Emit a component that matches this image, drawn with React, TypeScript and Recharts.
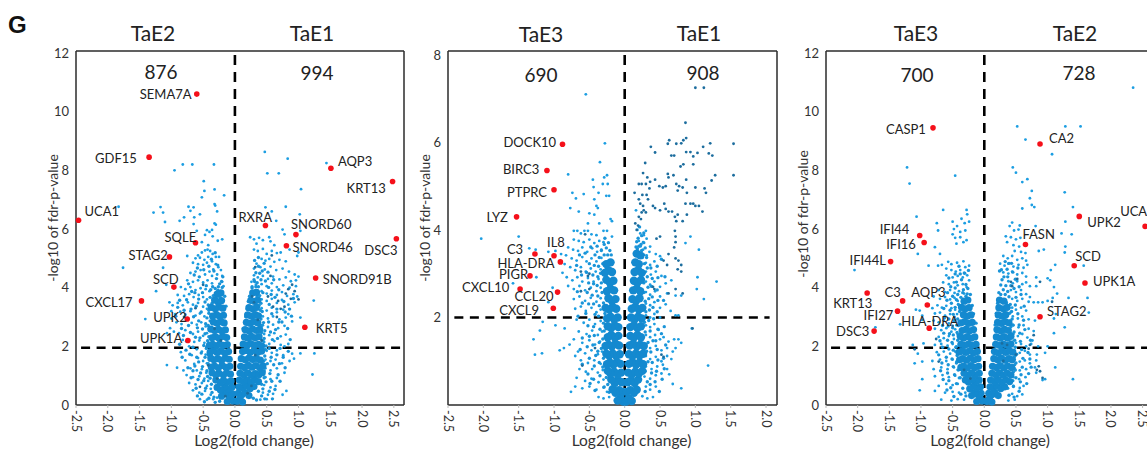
import { FC } from "react";
import { ScatterChart, Scatter, XAxis, YAxis, ReferenceLine } from "recharts";

type Pair = [number, number];
type Gene = { x: number; y: number; gene: string };

const xTicksWide = [-2.5, -2, -1.5, -1, -0.5, 0, 0.5, 1, 1.5, 2, 2.5];
const xTicksNarrow = [-2.5, -2, -1.5, -1, -0.5, 0, 0.5, 1, 1.5, 2];
const yTicks12 = [0, 2, 4, 6, 8, 10, 12];
const yTicks8 = [2, 4, 6, 8];

// TaE2 vs TaE1
const genesA: Gene[] = [
  { x: -0.6, y: 10.6, gene: "SEMA7A" },
  { x: -1.35, y: 8.45, gene: "GDF15" },
  { x: -2.46, y: 6.3, gene: "UCA1" },
  { x: -0.62, y: 5.53, gene: "SQLE" },
  { x: -1.03, y: 5.05, gene: "STAG2" },
  { x: -0.96, y: 4.02, gene: "SCD" },
  { x: -1.47, y: 3.55, gene: "CXCL17" },
  { x: -0.75, y: 2.93, gene: "UPK2" },
  { x: -0.74, y: 2.2, gene: "UPK1A" },
  { x: 1.51, y: 8.07, gene: "AQP3" },
  { x: 2.48, y: 7.62, gene: "KRT13" },
  { x: 0.48, y: 6.12, gene: "RXRA" },
  { x: 0.96, y: 5.81, gene: "SNORD60" },
  { x: 0.81, y: 5.43, gene: "SNORD46" },
  { x: 2.54, y: 5.67, gene: "DSC3" },
  { x: 1.27, y: 4.33, gene: "SNORD91B" },
  { x: 1.1, y: 2.65, gene: "KRT5" },
];
const labelNudgeA: Record<string, Pair> = {
  SEMA7A: [-57, 0], GDF15: [-54, 1], UCA1: [6, -9], SQLE: [-31, -6], STAG2: [-41, -2],
  SCD: [-21, -8], CXCL17: [-56, 1], UPK2: [-34, -2], UPK1A: [-48, -2], AQP3: [7, -7],
  KRT13: [-46, 6], RXRA: [-27, -9], SNORD60: [-5, -11], SNORD46: [6, 1], DSC3: [-32, 11],
  SNORD91B: [7, 1], KRT5: [11, 1],
};
const coreA: Pair[] = [
  [-0.03,0.14],[-0.08,0.2],[-0.12,0.12],[-0.04,0.38],[-0.1,0.33],[-0.15,0.41],[-0.21,0.3],[-0.05,0.6],[-0.11,0.55],[-0.16,0.62],[-0.23,0.52],[-0.28,0.6],
  [-0.06,0.82],[-0.12,0.78],[-0.18,0.84],[-0.23,0.77],[-0.3,0.85],[-0.07,1.05],[-0.13,1.1],[-0.18,1.02],[-0.25,1.08],[-0.3,1.03],[-0.36,1.1],
  [-0.08,1.32],[-0.14,1.28],[-0.2,1.35],[-0.26,1.27],[-0.32,1.33],[-0.37,1.29],[-0.09,1.56],[-0.15,1.6],[-0.21,1.53],[-0.27,1.58],[-0.33,1.54],[-0.38,1.6],
  [-0.1,1.82],[-0.16,1.78],[-0.22,1.84],[-0.28,1.79],[-0.34,1.85],[-0.39,1.8],[-0.12,2.06],[-0.18,2.03],[-0.24,2.08],[-0.29,2.02],[-0.35,2.07],[-0.4,2.04],
  [-0.13,2.3],[-0.19,2.34],[-0.25,2.28],[-0.31,2.33],[-0.36,2.29],[-0.15,2.56],[-0.21,2.53],[-0.26,2.58],[-0.32,2.54],[-0.38,2.59],[-0.17,2.8],[-0.22,2.84],[-0.28,2.79],[-0.34,2.83],
  [-0.18,3.06],[-0.24,3.02],[-0.29,3.08],[-0.35,3.03],[-0.19,3.3],[-0.25,3.34],[-0.31,3.28],[-0.37,3.33],[-0.21,3.56],[-0.27,3.52],[-0.32,3.58],[-0.22,3.82],[-0.28,3.78],
  [0.03,0.13],[0.08,0.22],[0.12,0.1],[0.05,0.4],[0.11,0.35],[0.16,0.42],[0.22,0.32],[0.06,0.62],[0.12,0.58],[0.18,0.65],[0.24,0.56],[0.3,0.63],
  [0.07,0.85],[0.13,0.8],[0.19,0.86],[0.25,0.79],[0.31,0.87],[0.37,0.8],[0.08,1.08],[0.14,1.03],[0.2,1.1],[0.26,1.02],[0.32,1.07],[0.38,1.04],[0.43,1.1],
  [0.09,1.32],[0.15,1.28],[0.21,1.35],[0.27,1.29],[0.33,1.34],[0.39,1.27],[0.44,1.33],[0.1,1.58],[0.16,1.54],[0.22,1.6],[0.28,1.55],[0.34,1.59],[0.4,1.53],
  [0.12,1.82],[0.18,1.86],[0.24,1.79],[0.3,1.85],[0.36,1.8],[0.42,1.84],[0.13,2.08],[0.19,2.03],[0.25,2.09],[0.31,2.04],[0.37,2.07],[0.42,2.02],
  [0.15,2.32],[0.2,2.28],[0.26,2.34],[0.32,2.29],[0.38,2.33],[0.16,2.57],[0.22,2.53],[0.28,2.59],[0.34,2.54],[0.39,2.58],[0.18,2.82],[0.24,2.78],[0.3,2.84],[0.36,2.8],
  [0.2,3.07],[0.26,3.03],[0.32,3.08],[0.37,3.04],[0.22,3.32],[0.28,3.28],[0.34,3.33],[0.25,3.57],[0.31,3.53],[0.36,3.58],[0.28,3.82],[0.34,3.84],
];
const haloA: Pair[] = [
  [-0.41,0.23],[-0.37,0.71],[-0.44,1.17],[-0.47,1.63],[-0.43,2.19],[-0.46,2.77],[-0.41,3.13],[-0.39,3.67],[-0.35,4.03],[-0.29,4.31],[-0.33,4.57],[-0.24,4.13],[-0.19,4.37],[-0.27,4.77],
  [-0.36,0.43],[-0.33,0.27],[-0.39,0.91],[-0.42,1.41],[-0.45,1.93],[-0.47,2.43],[-0.44,2.97],[-0.42,3.41],[-0.38,3.93],[-0.31,3.97],[-0.26,4.03],[-0.21,4.21],[-0.16,3.71],[-0.14,3.37],
  [-0.52,0.37],[-0.49,0.83],[-0.54,1.09],[-0.51,1.31],[-0.57,1.47],[-0.53,1.77],[-0.49,2.03],[-0.55,2.29],[-0.51,2.59],[-0.57,2.87],[-0.53,3.17],[-0.47,3.51],[-0.51,3.83],[-0.45,4.07],
  [-0.61,0.57],[-0.58,0.87],[-0.63,1.33],[-0.6,1.63],[-0.66,1.97],[-0.62,2.31],[-0.59,2.63],[-0.65,3.01],[-0.61,3.37],[-0.57,3.61],[-0.63,3.83],[-0.56,4.37],[-0.49,4.61],[-0.41,4.73],
  [-0.69,0.93],[-0.74,1.27],[-0.71,1.73],[-0.76,2.17],[-0.7,2.47],[-0.73,2.71],[-0.69,3.27],[-0.76,3.59],[-0.68,3.87],[-0.73,4.13],[-0.64,4.43],[-0.59,4.67],[-0.37,4.97],[-0.31,5.19],
  [-0.46,0.57],[-0.43,0.97],[-0.4,1.53],[-0.42,1.71],[-0.41,2.33],[-0.42,2.71],[-0.39,2.87],[-0.41,3.23],[-0.36,3.47],[-0.34,3.73],[-0.29,3.63],[-0.27,3.91],[-0.23,3.67],[-0.2,4.01],
  [-0.83,1.63],[-0.87,2.07],[-0.84,2.61],[-0.9,3.33],[-0.93,3.03],[-0.87,3.57],[-0.8,3.23],[-0.81,2.37],[-0.77,1.87],[-0.66,1.17],[-0.59,0.31],[-0.48,0.11],[-0.31,0.09],[-0.24,0.13],
  [0.47,0.21],[0.44,0.55],[0.49,0.79],[0.46,1.17],[0.51,1.41],[0.47,1.67],[0.49,2.01],[0.46,2.27],[0.47,2.53],[0.45,2.81],[0.43,3.19],[0.41,3.47],[0.39,3.73],[0.37,4.03],[0.31,4.21],
  [0.42,0.31],[0.37,0.47],[0.42,0.71],[0.46,0.93],[0.47,1.37],[0.45,1.49],[0.48,1.89],[0.44,2.19],[0.42,2.47],[0.42,2.71],[0.41,2.93],[0.4,3.23],[0.38,3.39],[0.35,3.71],[0.33,4.03],
  [0.54,0.47],[0.58,0.81],[0.55,1.07],[0.61,1.37],[0.57,1.63],[0.54,1.93],[0.59,2.23],[0.56,2.49],[0.53,2.83],[0.58,3.11],[0.54,3.43],[0.57,3.77],[0.53,4.01],[0.48,4.23],[0.43,4.57],
  [0.63,0.53],[0.68,1.03],[0.7,1.41],[0.66,1.71],[0.71,1.93],[0.67,2.27],[0.64,2.57],[0.69,2.83],[0.66,3.27],[0.63,3.67],[0.69,3.93],[0.61,4.27],[0.52,4.53],[0.46,4.83],[0.37,5.03],
  [0.27,4.03],[0.3,4.27],[0.33,4.51],[0.37,4.73],[0.35,4.17],[0.39,4.49],[0.41,4.27],[0.31,4.93],[0.27,3.99],[0.23,3.71],[0.21,3.53],[0.19,3.27],[0.17,3.01],[0.13,2.61],[0.44,3.83],
  [0.79,1.27],[0.84,1.83],[0.87,2.23],[0.83,2.61],[0.89,3.03],[0.79,3.17],[0.77,3.53],[0.86,3.27],[0.92,3.63],[0.74,2.83],[0.76,1.63],[0.71,0.81],[0.59,0.21],[0.34,0.17],[0.29,0.23],
];
const pointsA: Pair[] = [
  [-0.95,8.0],[-0.82,8.2],[-0.67,8.2],[-0.33,8.2],[-0.49,7.63],[-0.48,7.3],[-0.32,7.35],[-0.52,7.08],[-0.17,7.15],[-1.83,6.76],[-1.17,6.75],[-1.28,6.56],[-1.13,6.56],
  [-0.73,6.76],[-0.65,6.74],[-0.7,6.62],[-0.32,6.85],[-0.31,6.8],[-0.55,6.5],[-0.28,6.6],[-1.1,6.24],[-0.8,6.4],[-0.87,6.28],[-0.64,6.4],[-0.65,6.17],[-0.32,6.19],[-0.3,6.15],
  [-0.6,5.94],[-0.44,5.96],[-0.4,5.9],[-0.36,5.97],[-0.47,5.8],[-0.35,5.75],[-0.2,5.65],[-0.27,5.6],[-0.52,5.55],[-0.42,5.45],[-0.58,5.1],[-0.52,5.2],[-0.47,5.27],[-0.43,5.3],
  [-0.39,5.25],[-0.35,5.15],[-0.3,5.05],[-0.25,5.05],[-0.75,5.08],[-0.62,5.0],[-0.55,5.02],[-0.48,4.95],[-0.42,5.05],[-0.66,4.85],[-0.58,4.8],[-0.5,4.78],[-0.44,4.85],[-0.36,4.9],
  [-0.3,4.8],[-0.26,4.7],[-0.22,4.6],[-0.34,4.62],[-0.4,4.55],[-0.54,4.6],[-0.62,4.55],[-0.7,4.5],[-0.47,4.45],[-0.36,4.4],[-0.28,4.45],[-0.2,4.4],[-0.75,4.25],[-0.66,4.2],
  [-0.58,4.25],[-0.5,4.18],[-0.43,4.25],[-0.36,4.15],[-0.2,4.2],[-0.18,4.05],[-0.85,4.02],[-0.78,3.95],[-0.7,4.02],[-0.62,3.92],[-0.54,3.98],[-0.46,3.95],[-0.4,3.88],[-0.9,3.75],
  [-0.8,3.72],[-0.72,3.78],[-0.65,3.68],[-0.57,3.75],[-0.5,3.68],[-0.44,3.6],[-1.03,3.5],[-0.98,3.4],[-0.9,3.48],[-0.82,3.4],[-0.74,3.5],[-0.66,3.42],[-0.58,3.48],[-0.5,3.35],
  [-0.44,3.28],[-1.0,3.2],[-0.94,3.1],[-0.86,3.18],[-0.78,3.08],[-0.7,3.2],[-0.62,3.05],[-0.55,3.12],[-0.48,3.02],[-1.41,2.93],[-0.92,2.82],[-0.84,2.76],[-0.68,2.8],[-0.6,2.74],
  [-0.53,2.82],[-0.46,2.68],[-1.02,2.62],[-0.96,2.5],[-1.07,2.45],[-0.88,2.45],[-0.78,2.55],[-0.66,2.42],[-0.58,2.5],[-0.5,2.36],[-0.44,2.45],[-0.82,2.22],[-0.64,2.15],[-0.56,2.2],
  [-0.48,2.12],[-0.44,2.0],[-0.72,2.0],[-0.6,1.9],[-0.52,1.82],[-0.46,1.72],[-0.85,1.8],[-0.68,1.7],[-0.58,1.6],[-0.5,1.5],[-0.44,1.42],[-0.78,1.52],[-0.64,1.4],[-1.07,1.36],
  [-0.91,1.27],[-0.81,1.18],[-0.7,1.25],[-0.6,1.18],[-0.52,1.22],[-0.45,1.1],[-0.76,1.02],[-0.66,0.95],[-0.56,0.98],[-0.48,0.9],[-0.42,0.82],[-0.72,0.75],[-0.62,0.7],[-0.52,0.75],
  [-0.44,0.65],[-0.38,0.55],[-0.66,0.5],[-0.56,0.42],[-0.47,0.48],[-0.38,0.35],[-0.55,0.2],[-0.44,0.18],[-0.34,0.2],[-0.28,0.25],[-1.76,4.68],[-1.13,4.68],[-1.24,3.88],[-1.08,4.1],
  [-1.0,2.95],[0.47,8.63],[0.83,8.4],[1.44,8.25],[0.51,7.9],[0.69,7.9],[1.04,7.36],[0.48,6.74],[0.8,6.76],[1.02,6.5],[0.58,6.6],[0.65,6.28],[0.75,5.98],[0.78,5.82],[1.03,5.94],
  [0.24,5.72],[0.3,5.65],[0.38,5.7],[0.44,5.62],[0.54,5.72],[0.56,5.58],[0.62,5.45],[0.34,5.5],[0.44,5.32],[0.36,5.25],[0.3,5.3],[0.5,5.15],[0.58,5.25],[0.66,5.18],[0.72,5.2],
  [0.86,5.3],[0.98,5.08],[1.0,5.2],[0.42,4.98],[0.48,4.92],[0.54,4.98],[0.62,4.88],[0.7,4.95],[0.8,4.9],[0.34,4.82],[0.3,4.65],[0.4,4.7],[0.47,4.62],[0.56,4.72],[0.65,4.6],
  [0.75,4.65],[0.85,4.55],[0.94,4.45],[1.0,4.38],[0.3,4.42],[0.36,4.35],[0.44,4.4],[0.52,4.3],[0.6,4.38],[0.7,4.28],[0.8,4.35],[0.88,4.22],[0.96,4.25],[0.26,4.2],[0.33,4.1],
  [0.42,4.12],[0.5,4.05],[0.58,4.15],[0.66,4.02],[0.76,4.08],[0.86,4.0],[0.96,4.05],[0.42,3.88],[0.5,3.8],[0.58,3.9],[0.66,3.75],[0.74,3.85],[0.82,3.72],[0.92,3.78],[0.98,3.7],
  [0.42,3.6],[0.5,3.55],[0.58,3.62],[0.66,3.48],[0.74,3.58],[0.84,3.42],[0.94,3.5],[1.24,3.56],[0.42,3.3],[0.5,3.22],[0.58,3.32],[0.66,3.16],[0.76,3.25],[0.84,3.1],[0.44,3.02],
  [0.52,2.95],[0.6,3.02],[0.7,2.92],[0.8,2.98],[1.03,2.98],[0.9,2.85],[0.44,2.72],[0.52,2.66],[0.6,2.74],[0.68,2.62],[0.78,2.7],[0.46,2.42],[0.54,2.38],[0.62,2.45],[0.72,2.34],
  [0.8,2.4],[0.46,2.15],[0.54,2.08],[0.62,2.18],[0.72,2.05],[0.78,2.0],[0.84,2.08],[0.5,1.85],[0.58,1.78],[0.66,1.86],[0.76,1.7],[0.9,1.75],[1.03,1.76],[1.25,1.76],[0.48,1.55],
  [0.56,1.5],[0.64,1.55],[0.74,1.42],[0.86,1.5],[0.93,1.58],[0.48,1.25],[0.56,1.18],[0.66,1.25],[0.78,1.1],[1.22,1.04],[0.48,0.95],[0.56,0.88],[0.66,0.92],[0.46,0.68],[0.56,0.6],
  [0.64,0.65],[0.44,0.42],[0.52,0.35],[0.6,0.38],[0.81,0.48],[0.75,0.35],[0.4,0.18],[0.5,0.2],
];
const darkA: Pair[] = [
  [-0.55,0.62],[-0.42,1.35],[-0.5,4.1],[-0.62,3.3],[-0.8,3.0],[-0.32,2.6],[-0.22,2.2],[-0.28,0.9],[-0.15,0.3],[0.27,3.7],[0.3,3.5],[0.32,4.7],[0.36,2.9],[0.52,3.7],[0.68,3.55],
  [0.72,3.28],[0.78,3.35],[0.8,3.8],[0.84,3.95],[0.88,3.62],[0.94,3.88],[1.0,3.6],[0.9,4.1],[0.56,4.4],[0.6,3.35],[0.66,3.0],[0.42,2.2],[0.32,1.7],[0.26,0.65],[0.2,0.4],[0.58,5.1],
];

// TaE3 vs TaE1
const genesB: Gene[] = [
  { x: -0.88, y: 5.96, gene: "DOCK10" },
  { x: -1.1, y: 5.36, gene: "BIRC3" },
  { x: -1.0, y: 4.92, gene: "PTPRC" },
  { x: -1.53, y: 4.3, gene: "LYZ" },
  { x: -1.0, y: 3.41, gene: "IL8" },
  { x: -1.27, y: 3.45, gene: "C3" },
  { x: -0.91, y: 3.27, gene: "HLA-DRA" },
  { x: -1.34, y: 2.95, gene: "PIGR" },
  { x: -1.48, y: 2.65, gene: "CXCL10" },
  { x: -0.95, y: 2.58, gene: "CCL20" },
  { x: -1.01, y: 2.21, gene: "CXCL9" },
];
const labelNudgeB: Record<string, Pair> = {
  DOCK10: [-59, -2], BIRC3: [-44, -1], PTPRC: [-47, 2], LYZ: [-30, 0], IL8: [-7, -14], C3: [-28, -5],
  "HLA-DRA": [-63, 1], PIGR: [-31, -2], CXCL10: [-58, -2], CCL20: [-43, 4], CXCL9: [-54, 2],
};
const coreB: Pair[] = [
  [-0.02,0.08],[-0.06,0.16],[-0.1,0.1],[-0.03,0.3],[-0.08,0.34],[-0.13,0.28],[-0.17,0.36],[-0.04,0.52],[-0.09,0.56],[-0.14,0.5],[-0.19,0.58],[-0.05,0.74],[-0.1,0.7],[-0.15,0.76],[-0.2,0.72],[-0.24,0.78],
  [-0.06,0.94],[-0.11,0.98],[-0.16,0.92],[-0.21,0.97],[-0.25,0.93],[-0.07,1.16],[-0.12,1.12],[-0.17,1.18],[-0.22,1.13],[-0.26,1.17],[-0.08,1.36],[-0.13,1.4],[-0.18,1.34],[-0.23,1.38],[-0.27,1.35],
  [-0.09,1.58],[-0.14,1.54],[-0.19,1.6],[-0.24,1.55],[-0.09,1.78],[-0.14,1.82],[-0.19,1.76],[-0.24,1.8],[-0.1,2.0],[-0.15,1.96],[-0.2,2.02],[-0.25,1.98],[-0.12,2.2],[-0.17,2.24],[-0.22,2.18],[-0.27,2.22],
  [-0.13,2.42],[-0.18,2.38],[-0.23,2.44],[-0.15,2.62],[-0.2,2.66],[-0.25,2.6],[-0.16,2.84],[-0.21,2.8],[-0.26,2.86],[-0.18,3.04],[-0.23,3.08],[-0.28,3.02],[-0.2,3.26],[-0.26,3.22],
  [0.02,0.08],[0.06,0.15],[0.1,0.09],[0.03,0.3],[0.08,0.34],[0.13,0.28],[0.17,0.35],[0.04,0.52],[0.09,0.56],[0.14,0.5],[0.19,0.58],[0.05,0.74],[0.1,0.7],[0.15,0.76],[0.2,0.72],[0.25,0.78],
  [0.06,0.94],[0.11,0.98],[0.16,0.92],[0.21,0.97],[0.26,0.93],[0.06,1.16],[0.11,1.12],[0.16,1.18],[0.21,1.13],[0.26,1.17],[0.07,1.36],[0.12,1.4],[0.17,1.34],[0.22,1.38],[0.27,1.35],
  [0.08,1.58],[0.13,1.54],[0.18,1.6],[0.23,1.55],[0.08,1.78],[0.13,1.82],[0.18,1.76],[0.23,1.8],[0.09,2.0],[0.14,1.96],[0.19,2.02],[0.24,1.98],[0.1,2.2],[0.15,2.24],[0.2,2.18],[0.25,2.22],
  [0.11,2.42],[0.16,2.38],[0.21,2.44],[0.12,2.62],[0.17,2.66],[0.22,2.6],[0.13,2.84],[0.18,2.8],[0.23,2.86],[0.14,3.04],[0.19,3.08],[0.24,3.02],[0.15,3.26],[0.2,3.22],[0.17,3.46],[0.22,3.42],
];
const haloB: Pair[] = [
  [-0.29,0.41],[-0.26,0.63],[-0.31,0.87],[-0.3,1.07],[-0.33,1.29],[-0.31,1.51],[-0.29,1.69],[-0.3,1.87],[-0.28,2.09],[-0.3,2.33],[-0.32,2.57],[-0.33,2.79],[-0.34,3.01],[-0.31,3.23],[-0.29,3.43],
  [-0.22,0.29],[-0.24,0.47],[-0.35,0.67],[-0.36,0.97],[-0.38,1.23],[-0.36,1.43],[-0.35,1.73],[-0.37,2.03],[-0.36,2.27],[-0.38,2.49],[-0.39,2.73],[-0.38,2.93],[-0.37,3.17],[-0.36,3.37],[-0.33,3.53],
  [-0.42,0.33],[-0.44,0.59],[-0.43,0.89],[-0.41,1.13],[-0.45,1.37],[-0.43,1.59],[-0.44,1.79],[-0.42,2.07],[-0.44,2.31],[-0.46,2.51],[-0.44,2.77],[-0.45,2.97],[-0.43,3.19],[-0.42,3.43],[-0.39,3.63],
  [-0.49,0.49],[-0.52,0.71],[-0.5,1.07],[-0.53,1.33],[-0.5,1.57],[-0.52,1.81],[-0.55,2.09],[-0.51,2.31],[-0.53,2.57],[-0.51,2.79],[-0.54,3.03],[-0.5,3.23],[-0.56,3.47],[-0.48,3.61],[-0.29,3.67],
  [-0.28,3.81],[-0.26,3.59],[-0.24,3.43],[-0.23,3.71],[-0.21,3.53],[-0.19,3.43],[-0.6,0.93],[-0.63,1.27],[-0.6,1.53],[-0.66,2.03],[-0.6,2.33],[-0.67,2.59],[-0.61,2.97],[-0.68,3.19],[-0.64,3.43],
  [0.29,0.31],[0.32,0.53],[0.29,0.77],[0.33,0.99],[0.31,1.23],[0.33,1.43],[0.29,1.67],[0.28,1.89],[0.3,2.13],[0.29,2.37],[0.27,2.57],[0.27,2.79],[0.28,3.03],[0.28,3.23],[0.27,3.43],
  [0.36,0.47],[0.38,0.73],[0.39,0.97],[0.37,1.21],[0.4,1.47],[0.36,1.69],[0.34,1.93],[0.35,2.17],[0.34,2.43],[0.33,2.69],[0.32,2.93],[0.32,3.13],[0.31,3.37],[0.29,3.59],[0.27,3.71],
  [0.43,0.53],[0.45,0.77],[0.47,1.03],[0.46,1.27],[0.44,1.47],[0.47,1.73],[0.41,1.97],[0.4,2.23],[0.39,2.47],[0.38,2.71],[0.39,2.89],[0.37,3.13],[0.24,3.53],[0.23,3.67],[0.2,3.63],
  [0.49,0.31],[0.53,0.59],[0.56,0.83],[0.55,1.07],[0.58,1.37],[0.52,1.63],[0.56,1.79],[0.46,2.13],[0.47,2.39],[0.46,2.63],[0.47,2.91],[0.46,3.17],[0.52,3.33],[0.57,2.93],[0.55,2.39],
  [0.18,3.57],[0.22,3.63],[0.19,3.81],[0.24,3.87],[0.16,3.61],[0.2,3.47],[0.25,3.37],[0.27,3.93],[0.17,3.73],[0.21,4.07],
];
const pointsB: Pair[] = [
  [-0.55,7.1],[-0.28,5.98],[-0.35,5.55],[-0.8,5.27],[-0.29,5.2],[-0.25,5.25],[-0.45,5.15],[-0.31,5.05],[-0.24,5.05],[-0.44,4.98],[-0.37,4.85],[-0.74,4.85],[-0.58,4.82],[-0.69,4.72],
  [-0.26,4.78],[-0.22,4.78],[-0.43,4.7],[-0.77,4.5],[-0.4,4.55],[-0.38,4.5],[-0.65,4.42],[-0.5,4.38],[-0.43,4.35],[-0.2,4.25],[-0.18,4.2],[-0.52,4.15],[-0.36,4.15],[-2.03,3.8],[-1.5,3.85],
  [-0.72,3.98],[-0.67,3.98],[-0.62,3.92],[-0.57,3.98],[-0.52,3.98],[-0.47,3.9],[-0.4,3.88],[-0.3,3.98],[-0.25,3.98],[-0.18,3.85],[-0.72,3.78],[-0.65,3.75],[-0.58,3.72],[-0.5,3.78],[-0.43,3.7],
  [-0.36,3.75],[-0.3,3.72],[-1.35,3.58],[-1.26,3.55],[-0.8,3.6],[-0.73,3.55],[-0.66,3.52],[-0.6,3.6],[-0.53,3.5],[-0.46,3.58],[-0.39,3.5],[-0.33,3.55],[-1.08,3.5],[-0.98,3.52],[-0.9,3.45],
  [-0.83,3.42],[-0.75,3.35],[-0.68,3.3],[-0.6,3.38],[-0.54,3.28],[-0.47,3.35],[-0.4,3.28],[-0.33,3.36],[-0.85,3.22],[-0.77,3.15],[-0.7,3.08],[-0.62,3.15],[-0.55,3.05],[-0.48,3.12],[-0.41,3.05],
  [-0.34,3.1],[-1.25,2.92],[-0.88,3.02],[-0.82,2.92],[-0.74,2.85],[-0.67,2.92],[-0.6,2.82],[-0.52,2.9],[-0.44,2.82],[-0.37,2.88],[-1.58,2.78],[-0.8,2.72],[-0.72,2.65],[-0.64,2.72],[-0.56,2.62],
  [-0.48,2.68],[-0.4,2.6],[-0.34,2.68],[-1.02,2.68],[-0.72,2.42],[-0.64,2.48],[-0.56,2.38],[-0.48,2.45],[-0.4,2.36],[-0.34,2.44],[-1.08,2.35],[-0.7,2.2],[-0.62,2.25],[-0.55,2.15],[-0.47,2.22],
  [-0.4,2.12],[-0.34,2.18],[-0.68,1.95],[-0.58,1.88],[-0.5,1.95],[-0.42,1.85],[-0.34,1.92],[-1.16,1.9],[-1.2,1.7],[-0.98,1.82],[-0.85,1.75],[-0.65,1.68],[-0.54,1.62],[-0.46,1.7],[-0.38,1.6],
  [-0.32,1.68],[-0.72,1.5],[-0.6,1.42],[-0.5,1.48],[-0.42,1.38],[-0.35,1.45],[-1.29,1.5],[-0.78,1.38],[-0.66,1.22],[-0.56,1.18],[-0.47,1.25],[-0.38,1.16],[-0.32,1.22],[-0.86,1.3],[-0.92,1.25],
  [-1.27,1.15],[-1.17,1.18],[-0.62,1.02],[-0.52,0.96],[-0.43,1.02],[-0.34,0.94],[-0.7,1.12],[-0.64,0.82],[-0.55,0.76],[-0.46,0.82],[-0.38,0.74],[-0.31,0.8],[-0.68,0.62],[-0.56,0.55],[-0.47,0.6],
  [-0.37,0.52],[-0.3,0.58],[-0.7,0.42],[-0.6,0.38],[-0.5,0.42],[-0.4,0.35],[-0.3,0.4],[-0.25,0.3],[-0.76,0.3],[-0.37,0.18],[-0.3,0.15],[-0.22,0.18],
  [0.16,4.45],[0.18,4.0],[0.22,3.92],[0.27,3.88],[0.3,3.98],[0.2,3.75],[0.26,3.72],[0.31,3.8],[0.36,3.62],[0.26,3.55],[0.31,3.42],[0.35,3.5],[0.44,3.45],[0.3,3.25],[0.36,3.2],[0.42,3.28],
  [0.5,3.4],[0.3,3.05],[0.37,2.98],[0.44,3.05],[0.52,2.95],[0.3,2.82],[0.36,2.75],[0.42,2.82],[0.5,2.7],[0.58,2.78],[0.66,2.85],[0.3,2.58],[0.36,2.52],[0.43,2.6],[0.5,2.48],[0.6,2.55],
  [0.72,2.5],[0.8,2.5],[0.3,2.32],[0.36,2.28],[0.42,2.35],[0.5,2.22],[0.58,2.3],[0.65,2.15],[0.72,2.05],[0.76,2.05],[0.3,2.05],[0.36,2.0],[0.42,2.08],[0.5,2.0],[0.3,1.82],[0.36,1.78],[0.42,1.85],
  [0.48,1.72],[0.3,1.6],[0.36,1.55],[0.43,1.6],[0.5,1.5],[0.55,1.55],[0.62,1.45],[0.7,1.5],[0.76,1.5],[0.8,1.42],[0.3,1.38],[0.36,1.3],[0.44,1.35],[0.52,1.25],[0.6,1.3],[0.68,1.22],[0.72,1.3],
  [0.3,1.12],[0.36,1.05],[0.44,1.1],[0.52,1.0],[0.6,1.12],[0.66,1.05],[0.3,0.88],[0.38,0.82],[0.46,0.88],[0.54,0.92],[0.6,0.82],[0.28,0.65],[0.36,0.6],[0.44,0.68],[0.52,0.72],[0.63,0.7],[0.3,0.42],
  [0.36,0.35],[0.44,0.42],[0.68,0.48],[0.8,0.38],[0.25,0.2],[0.32,0.15],[0.4,0.18],[1.18,0.9],[1.3,2.82],[1.12,2.42],[1.03,2.92],[1.02,2.65],[0.93,3.85],[1.05,3.55],[0.86,3.7],[0.95,1.75],
];
const darkB: Pair[] = [
  [1.0,7.25],[1.12,7.25],[0.86,6.45],[0.87,6.1],[0.83,6.05],[0.63,6.05],[0.61,5.97],[0.73,5.97],[0.8,5.98],[1.21,5.98],[1.54,5.97],[1.11,5.9],[0.37,5.9],[0.87,5.78],[0.93,5.78],[1.03,5.76],
  [1.19,5.75],[1.24,5.7],[0.43,5.77],[0.66,5.7],[0.7,5.7],[0.97,5.68],[0.83,5.5],[0.97,5.5],[0.79,5.45],[0.29,5.53],[0.61,5.28],[0.69,5.25],[0.62,5.2],[1.28,5.25],[1.54,5.25],[1.23,5.13],
  [0.26,5.3],[0.32,5.2],[0.36,5.1],[0.2,5.05],[0.24,5.05],[0.3,5.05],[0.43,5.15],[0.49,5.0],[0.54,4.97],[0.58,5.0],[0.73,5.05],[0.77,5.0],[0.82,4.97],[0.87,5.15],[1.0,4.97],[1.13,4.95],
  [1.15,4.85],[0.14,4.85],[0.25,4.8],[0.31,4.8],[0.35,4.95],[0.75,4.9],[0.88,4.85],[0.2,4.7],[0.22,4.6],[0.26,4.55],[0.33,4.7],[0.93,4.6],[0.97,4.6],[1.0,4.55],[0.86,4.6],[0.56,4.6],[0.58,4.48],
  [0.5,4.45],[0.4,4.55],[0.43,4.5],[1.1,4.42],[1.05,4.55],[0.62,4.42],[0.67,4.42],[0.71,4.3],[0.75,4.35],[0.88,4.35],[0.2,4.3],[0.24,4.4],[0.27,4.45],[0.3,4.4],[0.73,4.2],[0.82,4.2],[0.15,4.15],
  [0.19,4.1],[0.23,4.25],[0.17,4.0],[0.71,3.98],[0.72,3.85],[0.45,3.8],[0.5,3.85],[0.7,3.6],[0.72,3.72],[0.62,3.45],[0.55,3.3],[0.72,3.35],[0.76,3.3],[0.8,3.2],[0.75,3.1],[0.8,3.05],[0.6,3.2],
  [0.4,2.7],[0.42,2.65],[0.62,2.55],[0.72,2.65],[0.82,2.55],[0.96,1.75],[0.52,1.15],[0.55,1.1],[-0.56,3.9],[-0.62,3.05],[-0.52,2.95],[-0.5,2.65],[-0.5,3.0],[-0.62,2.6],[-0.42,1.3],[-0.6,0.9],
];

// TaE3 vs TaE2
const genesC: Gene[] = [
  { x: -0.81, y: 9.45, gene: "CASP1" },
  { x: -1.02, y: 5.78, gene: "IFI44" },
  { x: -0.95, y: 5.54, gene: "IFI16" },
  { x: -1.48, y: 4.89, gene: "IFI44L" },
  { x: -1.85, y: 3.82, gene: "KRT13" },
  { x: -1.29, y: 3.55, gene: "C3" },
  { x: -0.9, y: 3.41, gene: "AQP3" },
  { x: -1.37, y: 3.2, gene: "IFI27" },
  { x: -0.87, y: 2.62, gene: "HLA-DRA" },
  { x: -1.74, y: 2.52, gene: "DSC3" },
  { x: 0.88, y: 8.9, gene: "CA2" },
  { x: 1.5, y: 6.43, gene: "UPK2" },
  { x: 2.54, y: 6.09, gene: "UCA1" },
  { x: 0.65, y: 5.47, gene: "FASN" },
  { x: 1.42, y: 4.75, gene: "SCD" },
  { x: 1.59, y: 4.16, gene: "UPK1A" },
  { x: 0.88, y: 3.01, gene: "STAG2" },
];
const labelNudgeC: Record<string, Pair> = {
  CASP1: [-47, 1], IFI44: [-40, -6], IFI16: [-38, 1], IFI44L: [-41, -2], KRT13: [-34, 10], C3: [-18, -9],
  AQP3: [-16, -13], IFI27: [-34, 4], "HLA-DRA": [-28, -7], DSC3: [-38, 0], CA2: [9, -6], UPK2: [8, 6],
  UCA1: [-25, -15], FASN: [-3, -11], SCD: [1, -10], UPK1A: [8, -2], STAG2: [7, -6],
};
const coreC: Pair[] = [
  [-0.03,0.14],[-0.07,0.22],[-0.12,0.12],[-0.05,0.4],[-0.1,0.35],[-0.15,0.42],[-0.2,0.32],[-0.06,0.62],[-0.12,0.58],[-0.17,0.64],[-0.23,0.55],[-0.08,0.85],[-0.13,0.8],[-0.19,0.87],[-0.25,0.78],[-0.3,0.85],
  [-0.08,1.08],[-0.14,1.03],[-0.2,1.1],[-0.26,1.02],[-0.32,1.08],[-0.09,1.32],[-0.15,1.28],[-0.21,1.34],[-0.27,1.27],[-0.33,1.33],[-0.37,1.28],[-0.1,1.58],[-0.16,1.54],[-0.22,1.6],[-0.28,1.53],[-0.34,1.58],[-0.39,1.54],
  [-0.11,1.82],[-0.17,1.78],[-0.23,1.85],[-0.29,1.79],[-0.35,1.84],[-0.4,1.8],[-0.13,2.07],[-0.19,2.03],[-0.25,2.08],[-0.31,2.03],[-0.37,2.07],[-0.15,2.32],[-0.21,2.28],[-0.27,2.33],[-0.33,2.28],[-0.38,2.34],
  [-0.17,2.57],[-0.23,2.53],[-0.29,2.58],[-0.35,2.54],[-0.19,2.82],[-0.25,2.78],[-0.31,2.84],[-0.37,2.8],[-0.21,3.07],[-0.27,3.03],[-0.33,3.08],[-0.24,3.32],[-0.3,3.28],[-0.36,3.33],[-0.26,3.58],[-0.32,3.54],
  [0.04,0.12],[0.08,0.22],[0.12,0.1],[0.07,0.4],[0.12,0.35],[0.17,0.42],[0.22,0.32],[0.09,0.62],[0.14,0.58],[0.2,0.64],[0.26,0.56],[0.32,0.62],[0.1,0.85],[0.16,0.8],[0.22,0.87],[0.28,0.78],[0.34,0.85],[0.4,0.8],
  [0.12,1.08],[0.18,1.03],[0.24,1.1],[0.3,1.02],[0.36,1.08],[0.42,1.03],[0.13,1.32],[0.19,1.28],[0.25,1.34],[0.31,1.27],[0.37,1.33],[0.43,1.28],[0.15,1.58],[0.21,1.54],[0.27,1.6],[0.33,1.53],[0.39,1.58],[0.44,1.54],
  [0.16,1.82],[0.22,1.78],[0.28,1.85],[0.34,1.79],[0.4,1.84],[0.45,1.8],[0.18,2.07],[0.24,2.03],[0.3,2.08],[0.36,2.03],[0.42,2.07],[0.19,2.32],[0.25,2.28],[0.31,2.33],[0.37,2.28],[0.42,2.34],
  [0.2,2.57],[0.26,2.53],[0.32,2.58],[0.38,2.54],[0.21,2.82],[0.27,2.78],[0.33,2.84],[0.39,2.8],[0.22,3.07],[0.28,3.03],[0.34,3.08],[0.23,3.32],[0.3,3.28],[0.36,3.33],[0.24,3.58],[0.31,3.54],
];
const haloC: Pair[] = [
  [-0.29,0.31],[-0.34,0.57],[-0.38,0.93],[-0.41,1.19],[-0.44,1.43],[-0.43,1.69],[-0.45,1.97],[-0.42,2.21],[-0.43,2.47],[-0.41,2.71],[-0.42,2.93],[-0.39,3.19],[-0.41,3.43],[-0.37,3.67],[-0.34,3.83],
  [-0.37,0.37],[-0.44,0.73],[-0.47,1.03],[-0.49,1.31],[-0.51,1.57],[-0.49,1.87],[-0.51,2.13],[-0.49,2.39],[-0.5,2.63],[-0.47,2.89],[-0.49,3.09],[-0.46,3.33],[-0.44,3.59],[-0.42,3.77],[-0.29,3.71],
  [-0.48,0.29],[-0.53,0.59],[-0.56,0.83],[-0.58,1.09],[-0.57,1.37],[-0.6,1.63],[-0.56,1.91],[-0.58,2.21],[-0.55,2.43],[-0.57,2.69],[-0.56,2.93],[-0.54,3.23],[-0.52,3.47],[-0.5,3.71],[-0.46,3.99],
  [-0.59,0.51],[-0.65,0.87],[-0.69,1.17],[-0.67,1.43],[-0.72,1.71],[-0.66,1.97],[-0.7,2.19],[-0.64,2.45],[-0.66,2.71],[-0.63,2.97],[-0.64,3.29],[-0.59,3.57],[-0.58,3.83],[-0.53,4.03],[-0.44,4.19],
  [-0.27,3.79],[-0.33,3.93],[-0.29,4.11],[-0.36,4.27],[-0.31,4.49],[-0.25,4.59],[-0.38,4.47],[-0.46,4.47],[-0.4,4.73],[-0.56,4.33],[-0.26,3.97],[-0.22,3.77],[-0.19,3.39],[-0.17,3.11],[-0.13,2.79],
  [0.47,0.27],[0.46,0.63],[0.5,0.93],[0.49,1.19],[0.5,1.43],[0.51,1.73],[0.49,1.97],[0.48,2.21],[0.47,2.49],[0.45,2.73],[0.44,2.93],[0.43,3.19],[0.41,3.43],[0.39,3.69],[0.37,3.87],
  [0.39,0.33],[0.37,0.57],[0.45,0.83],[0.46,1.13],[0.48,1.37],[0.47,1.63],[0.49,1.69],[0.44,2.15],[0.43,2.43],[0.42,2.67],[0.41,2.87],[0.4,3.13],[0.39,3.31],[0.35,3.49],[0.33,3.77],
  [0.55,0.47],[0.57,0.79],[0.58,1.03],[0.6,1.29],[0.61,1.59],[0.59,1.89],[0.57,2.17],[0.56,2.45],[0.55,2.73],[0.53,3.11],[0.49,3.41],[0.5,3.67],[0.47,3.97],[0.42,4.07],[0.37,4.37],
  [0.67,0.73],[0.7,1.07],[0.74,1.29],[0.72,1.57],[0.69,1.79],[0.73,2.21],[0.64,2.57],[0.62,2.89],[0.63,3.37],[0.58,3.77],[0.55,4.03],[0.49,4.29],[0.45,4.53],[0.36,4.63],[0.28,4.27],
  [0.26,3.77],[0.3,3.93],[0.34,4.07],[0.26,4.09],[0.23,3.83],[0.21,3.47],[0.19,3.13],[0.17,2.73],[0.31,4.37],[0.39,4.83],[0.33,4.89],[0.43,4.83],[0.27,4.61],[0.24,4.57],[0.53,4.67],
];
const pointsC: Pair[] = [
  [-1.22,8.1],[-1.18,7.55],[-0.46,7.82],[-0.65,6.65],[-1.07,6.42],[-0.75,6.2],[-0.28,6.65],[-0.27,6.5],[-0.24,6.25],[-0.36,6.35],[-0.31,6.2],[-0.5,6.25],[-0.43,6.1],[-0.73,5.95],[-0.48,6.0],[-0.38,5.9],
  [-0.3,5.95],[-0.5,5.82],[-0.46,5.7],[-0.38,5.72],[-0.28,5.62],[-0.33,5.55],[-0.44,5.5],[-0.78,5.38],[-1.05,5.15],[-0.7,5.15],[-2.05,4.6],[-0.88,4.75],[-0.73,4.75],[-0.67,4.78],[-0.57,4.88],[-0.52,4.8],
  [-0.43,4.85],[-0.33,4.9],[-0.3,4.7],[-0.24,4.75],[-0.6,4.65],[-0.52,4.6],[-0.45,4.55],[-0.38,4.6],[-0.32,4.5],[-0.6,4.42],[-0.5,4.35],[-0.42,4.4],[-0.34,4.35],[-0.27,4.42],[-0.24,4.25],[-0.65,4.18],
  [-0.56,4.12],[-0.48,4.18],[-0.42,4.08],[-0.34,4.12],[-0.28,4.02],[-0.72,3.92],[-0.62,3.85],[-0.54,3.92],[-0.47,3.82],[-0.4,3.88],[-0.32,3.8],[-0.8,3.7],[-0.7,3.62],[-0.62,3.68],[-0.54,3.6],[-0.47,3.65],
  [-0.42,3.55],[-1.08,3.25],[-1.02,3.22],[-0.98,3.05],[-0.82,3.3],[-0.74,3.4],[-0.67,3.32],[-0.6,3.38],[-0.52,3.3],[-0.46,3.25],[-0.43,3.1],[-0.78,3.12],[-0.7,3.15],[-0.62,3.05],[-0.54,3.1],[-0.47,3.0],
  [-1.33,2.75],[-1.72,2.65],[-1.75,2.55],[-0.98,2.9],[-0.8,2.88],[-0.72,2.82],[-0.64,2.88],[-0.56,2.78],[-0.48,2.85],[-0.44,2.72],[-0.78,2.6],[-0.68,2.55],[-0.6,2.62],[-0.52,2.5],[-0.46,2.58],[-0.72,2.32],
  [-0.64,2.28],[-0.56,2.35],[-0.48,2.25],[-0.42,2.4],[-1.13,2.05],[-0.96,2.1],[-0.78,2.05],[-0.68,2.08],[-0.58,2.02],[-0.5,2.08],[-0.44,2.0],[-1.05,1.75],[-0.75,1.8],[-0.64,1.82],[-0.54,1.75],[-0.46,1.82],
  [-1.1,1.42],[-0.98,1.48],[-0.82,1.5],[-0.7,1.55],[-0.6,1.5],[-0.5,1.55],[-0.44,1.48],[-0.8,1.22],[-0.68,1.28],[-0.58,1.22],[-0.48,1.28],[-0.42,1.2],[-0.98,0.88],[-0.78,0.98],[-0.66,1.02],[-0.56,0.95],
  [-0.46,1.0],[-0.4,0.92],[-1.02,0.5],[-0.72,0.65],[-0.6,0.72],[-0.5,0.68],[-0.42,0.72],[-0.78,0.48],[-0.62,0.42],[-0.5,0.45],[-0.4,0.42],[-0.68,0.18],[-0.52,0.15],[-0.42,0.2],[-0.32,0.18],[-0.3,0.42],
  [0.52,9.5],[1.28,9.5],[1.52,9.5],[0.65,9.05],[1.07,8.55],[0.45,8.1],[0.5,7.92],[0.6,7.6],[0.68,7.7],[0.75,7.3],[0.72,7.05],[1.27,7.25],[0.75,6.82],[0.79,6.75],[1.4,6.75],[0.6,6.7],[1.28,6.25],
  [2.35,10.82],[0.44,6.22],[0.4,6.1],[0.56,6.12],[0.47,5.95],[0.54,5.98],[0.81,6.1],[1.22,5.85],[1.38,5.82],[0.34,5.75],[0.42,5.72],[0.5,5.65],[0.57,5.7],[0.36,5.55],[0.46,5.45],[0.55,5.4],[0.48,5.25],[0.58,5.22],
  [0.65,5.18],[0.86,5.25],[0.94,5.3],[1.28,5.4],[1.27,5.2],[0.3,5.08],[0.37,5.0],[0.44,5.08],[0.52,4.95],[0.6,5.0],[0.66,4.92],[0.25,4.82],[0.32,4.75],[0.38,4.82],[0.46,4.72],[0.54,4.78],[0.62,4.68],
  [0.68,4.78],[1.12,4.78],[1.05,4.6],[1.57,4.75],[0.3,4.52],[0.38,4.48],[0.44,4.55],[0.52,4.45],[0.6,4.5],[0.66,4.38],[0.82,4.35],[1.0,4.32],[1.04,4.25],[0.38,4.22],[0.45,4.15],[0.52,4.22],[0.6,4.12],
  [0.66,4.18],[0.72,4.05],[0.82,4.05],[1.1,4.02],[0.42,3.92],[0.5,3.85],[0.58,3.92],[0.66,3.78],[0.72,3.68],[1.15,3.8],[1.08,3.65],[1.33,3.65],[1.63,3.65],[0.44,3.62],[0.52,3.55],[0.6,3.62],[0.7,3.52],
  [0.78,3.5],[0.85,3.5],[0.92,3.5],[1.0,3.55],[0.44,3.32],[0.5,3.25],[0.58,3.32],[0.66,3.22],[1.65,3.15],[0.45,3.02],[0.53,2.95],[0.6,3.02],[0.7,2.92],[0.8,2.88],[1.1,2.95],[1.13,3.1],[0.46,2.72],[0.54,2.65],
  [0.62,2.72],[0.7,2.6],[0.78,2.52],[1.27,2.65],[1.1,2.45],[0.46,2.42],[0.53,2.35],[0.6,2.42],[0.68,2.3],[0.76,2.2],[0.5,2.12],[0.58,2.08],[0.66,2.0],[0.74,2.08],[0.85,2.0],[1.0,2.0],[0.48,1.85],[0.56,1.78],
  [0.64,1.85],[0.72,1.72],[0.83,1.72],[0.96,1.78],[0.48,1.55],[0.56,1.48],[0.64,1.52],[0.72,1.42],[0.82,1.52],[1.12,1.28],[0.48,1.25],[0.56,1.18],[0.66,1.22],[0.8,1.28],[0.82,1.1],[0.46,0.95],[0.55,0.88],
  [0.65,0.95],[0.96,0.88],[0.92,0.85],[0.46,0.65],[0.56,0.58],[0.62,0.65],[0.44,0.38],[0.52,0.3],[0.6,0.36],[0.38,0.15],[0.48,0.18],[1.4,0.88],
];
const darkC: Pair[] = [
  [0.83,1.2],[0.88,1.15],[0.92,0.92],[0.86,1.32],[0.88,4.2],[0.52,4.3],[0.42,4.2],[0.44,4.05],[0.72,2.05],[0.5,1.72],[0.36,2.05],[-0.72,1.48],[-0.5,2.7],[-0.76,2.25],[-0.32,1.2],[0.28,2.1],[0.3,1.5],
  [1.07,3.52],[0.78,2.38],[0.7,1.92],[-1.1,1.9],[-0.22,0.9],
];

type PanelProps = {
  left: number;
  boxWidth: number;
  xMax: number;
  yMax: number;
  xTicks: number[];
  yTicks: number[];
  hLineY: number;
  hLineFrom: number;
  hLineTo: number;
  core: Pair[];
  coreRadius: number;
  halo: Pair[];
  points: Pair[];
  dark: Pair[];
  genes: Gene[];
  nudge: Record<string, Pair>;
  titleDx: number;
  yTitleDy: number;
};

const FONT = "Lato, 'Noto Sans', sans-serif";
const toRows = (pairs: Pair[]) => pairs.map(([x, y]) => ({ x, y }));

const dot = (fill: string, r: number) => (props: any) =>
  <circle cx={props.cx} cy={props.cy} r={r} fill={fill} />;

const XTick = ({ x, y, payload }: any) => (
  <text
    transform={`translate(${x},${y}) rotate(90)`}
    fontFamily={FONT}
    fontSize={12.5}
    fill="#333"
    dominantBaseline="central"
  >
    {payload.value.toFixed(1)}
  </text>
);

const Panel: FC<PanelProps> = (p) => {
  const geneShape = (props: any) => {
    const gene = props.payload?.gene ?? props.gene;
    const [dx, dy] = p.nudge[gene] ?? [6, 0];
    return (
      <g>
        <circle cx={props.cx} cy={props.cy} r={2.8} fill="#f5101a" />
        <text
          x={props.cx + dx}
          y={props.cy + dy}
          fontFamily={FONT}
          fontSize={13}
          fill="#222"
          dominantBaseline="central"
        >
          {gene}
        </text>
      </g>
    );
  };
  return (
    <div style={{ position: "absolute", left: p.left - 50, top: 0 }}>
      <ScatterChart
        width={p.boxWidth + 55}
        height={452}
        margin={{ top: 51, right: 5, bottom: 0, left: 0 }}
      >
        <XAxis
          type="number"
          dataKey="x"
          domain={[-2.5, p.xMax]}
          ticks={p.xTicks}
          interval={0}
          height={47}
          tick={<XTick />}
          tickLine={{ stroke: "#bbb" }}
          tickSize={3}
          axisLine={false}
          label={{
            value: "Log2(fold change)",
            position: "insideBottom",
            offset: 6,
            dx: p.titleDx,
            fontFamily: FONT,
            fontSize: 15.5,
            fill: "#333",
          }}
        />
        <YAxis
          type="number"
          dataKey="y"
          domain={[0, p.yMax]}
          ticks={p.yTicks}
          interval={0}
          width={50}
          tick={{ fontFamily: FONT, fontSize: 13, fill: "#333" }}
          tickLine={false}
          tickMargin={1}
          axisLine={false}
          label={{
            value: "-log10 of fdr-p-value",
            angle: -90,
            position: "insideLeft",
            dx: 22,
            dy: p.yTitleDy,
            style: { textAnchor: "middle" },
            fontFamily: FONT,
            fontSize: 14,
            fill: "#333",
          }}
        />
        <Scatter data={toRows(p.points)} shape={dot("#1c9ee2", 1.4)} isAnimationActive={false} />
        <Scatter data={toRows(p.halo)} shape={dot("#1a94d8", 1.7)} isAnimationActive={false} />
        <Scatter data={toRows(p.core)} shape={dot("#1489cf", p.coreRadius)} isAnimationActive={false} />
        <Scatter data={toRows(p.dark)} shape={dot("#1c6d9e", 1.4)} isAnimationActive={false} />
        <ReferenceLine x={-2.5} stroke="#2b2b2b" strokeWidth={1.5} />
        <ReferenceLine x={p.xMax} stroke="#2b2b2b" strokeWidth={1.5} />
        <ReferenceLine y={0} stroke="#2b2b2b" strokeWidth={1.5} />
        <ReferenceLine y={p.yMax} stroke="#2b2b2b" strokeWidth={1.5} />
        <ReferenceLine x={0} stroke="#000" strokeWidth={2.6} strokeDasharray="10 7" />
        <ReferenceLine
          segment={[
            { x: p.hLineFrom, y: p.hLineY },
            { x: p.hLineTo, y: p.hLineY },
          ]}
          stroke="#000"
          strokeWidth={2.4}
          strokeDasharray="9 6.5"
        />
        <Scatter data={p.genes} shape={geneShape} isAnimationActive={false} />
      </ScatterChart>
    </div>
  );
};

const headingStyle = (left: number, top: number, fontSize: number) =>
  ({
    position: "absolute",
    left,
    top,
    fontSize,
    fontFamily: FONT,
    color: "#222",
    lineHeight: 1,
    transform: "translate(-50%, -50%)",
    whiteSpace: "nowrap",
  }) as const;

const headings: [string, number, number, number][] = [
  ["TaE2", 153, 32, 21],
  ["TaE1", 312, 32, 21],
  ["876", 161, 71, 19],
  ["994", 317, 72, 19],
  ["TaE3", 541, 33, 21],
  ["TaE1", 699, 32, 21],
  ["690", 541, 74, 19],
  ["908", 703, 72, 19],
  ["TaE3", 916, 32, 21],
  ["TaE2", 1075, 32, 21],
  ["700", 917, 74, 19],
  ["728", 1079, 72, 19],
];

export default function App() {
  return (
    <div
      style={{
        position: "fixed",
        left: 0,
        top: 0,
        width: 1147,
        height: 452,
        overflow: "hidden",
        background: "#fff",
      }}
    >
      <Panel
        left={75.5}
        boxWidth={328}
        xMax={2.66}
        yMax={12.07}
        xTicks={xTicksWide}
        yTicks={yTicks12}
        hLineY={1.95}
        hLineFrom={-2.42}
        hLineTo={2.62}
        core={coreA}
        coreRadius={3.6}
        halo={haloA}
        points={pointsA}
        dark={darkA}
        genes={genesA}
        nudge={labelNudgeA}
        titleDx={14}
        yTitleDy={-10}
      />
      <Panel
        left={448}
        boxWidth={329}
        xMax={2.155}
        yMax={8.09}
        xTicks={xTicksNarrow}
        yTicks={yTicks8}
        hLineY={2.0}
        hLineFrom={-2.41}
        hLineTo={2.05}
        core={coreB}
        coreRadius={4.2}
        halo={haloB}
        points={pointsB}
        dark={darkB}
        genes={genesB}
        nudge={labelNudgeB}
        titleDx={19}
        yTitleDy={-10}
      />
      <Panel
        left={825.7}
        boxWidth={328}
        xMax={2.68}
        yMax={12.07}
        xTicks={xTicksWide}
        yTicks={yTicks12}
        hLineY={1.95}
        hLineFrom={-2.42}
        hLineTo={2.62}
        core={coreC}
        coreRadius={3.6}
        halo={haloC}
        points={pointsC}
        dark={darkC}
        genes={genesC}
        nudge={labelNudgeC}
        titleDx={0}
        yTitleDy={-14}
      />
      {headings.map(([text, left, top, size], i) => (
        <div key={i} style={headingStyle(left, top, size)}>
          {text}
        </div>
      ))}
      <div
        style={{
          position: "absolute",
          left: 8,
          top: 13,
          fontFamily: "'Liberation Sans', sans-serif",
          fontWeight: 700,
          fontSize: 24,
          lineHeight: 1,
          color: "#111",
        }}
      >
        G
      </div>
    </div>
  );
}
